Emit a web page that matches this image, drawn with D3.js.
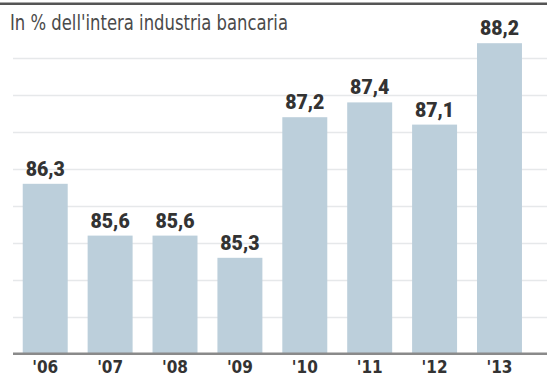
<!DOCTYPE html>
<html>
<head>
<meta charset="utf-8">
<script src="https://cdn.jsdelivr.net/npm/d3@7"></script>
<style>
  html, body { margin: 0; padding: 0; background: #fff; }
  svg { display: block; }
</style>
</head>
<body>
<svg id="chart" width="547" height="378"></svg>
<script>
// Quota sul totale dell'industria bancaria, per anno
const years = ["'06", "'07", "'08", "'09", "'10", "'11", "'12", "'13"];
const values = [86.3, 85.6, 85.6, 85.3, 87.2, 87.4, 87.1, 88.2];
const gridTicks = [84.5, 85, 85.5, 86, 86.5, 87, 87.5, 88];
const title = "In % dell'intera industria bancaria";

const W = 547, H = 378;
const svg = d3.select("#chart");

const x = d3.scaleBand()
  .domain(years)
  .range([13, 531.7])
  .paddingInner(0.307)
  .paddingOuter(0.15);

const y = d3.scaleLinear()
  .domain([84, 88.2])
  .range([354, 43.2]);

// cornice superiore
svg.append("rect")
  .attr("x", 0).attr("y", 2.5).attr("width", W).attr("height", 2.5)
  .attr("fill", "#555");

// griglia orizzontale
svg.append("g")
  .selectAll("line")
  .data(gridTicks)
  .join("line")
  .attr("x1", 13).attr("x2", W)
  .attr("y1", d => Math.round(y(d)) + 0.5)
  .attr("y2", d => Math.round(y(d)) + 0.5)
  .attr("stroke", "#e6e8ea")
  .attr("stroke-width", 1.5);

// titolo (carattere stretto)
svg.append("text")
  .attr("x", 10).attr("y", 30)
  .attr("font-family", "'DejaVu Sans Condensed', 'Liberation Sans Narrow', sans-serif")
  .attr("font-stretch", "condensed")
  .attr("font-size", 21.5)
  .attr("fill", "#4a4a4a")
  .attr("textLength", 278)
  .attr("lengthAdjust", "spacingAndGlyphs")
  .text(title);

// barre
svg.append("g")
  .selectAll("rect")
  .data(values)
  .join("rect")
  .attr("x", (d, i) => x(years[i]))
  .attr("width", x.bandwidth())
  .attr("y", d => y(d))
  .attr("height", d => y(84) - y(d))
  .attr("fill", "#bccfdb");

// etichette dei valori
const fmt = d => d.toFixed(1).replace(".", ",");
svg.append("g")
  .selectAll("text")
  .data(values)
  .join("text")
  .attr("x", (d, i) => x(years[i]) + x.bandwidth() / 2)
  .attr("y", d => y(d) - 8)
  .attr("text-anchor", "middle")
  .attr("font-family", "Roboto, sans-serif")
  .attr("font-weight", 900)
  .attr("font-size", 19.5)
  .attr("fill", "#333")
  .text(fmt);

// linea di base
svg.append("rect")
  .attr("x", 13).attr("y", 352.5).attr("width", W - 13).attr("height", 2.5)
  .attr("fill", "#8a8a8a");

// asse delle categorie
const xAxis = svg.append("g")
  .attr("transform", "translate(0,355)")
  .call(d3.axisBottom(x).tickSize(0).tickPadding(0));
xAxis.select(".domain").remove();
xAxis.selectAll("text")
  .attr("dy", null)
  .attr("y", 18)
  .attr("font-family", "'DejaVu Sans Condensed', 'Liberation Sans Narrow', sans-serif")
  .attr("font-stretch", "condensed")
  .attr("font-weight", 700)
  .attr("font-size", 17)
  .attr("fill", "#333");
</script>
</body>
</html>
